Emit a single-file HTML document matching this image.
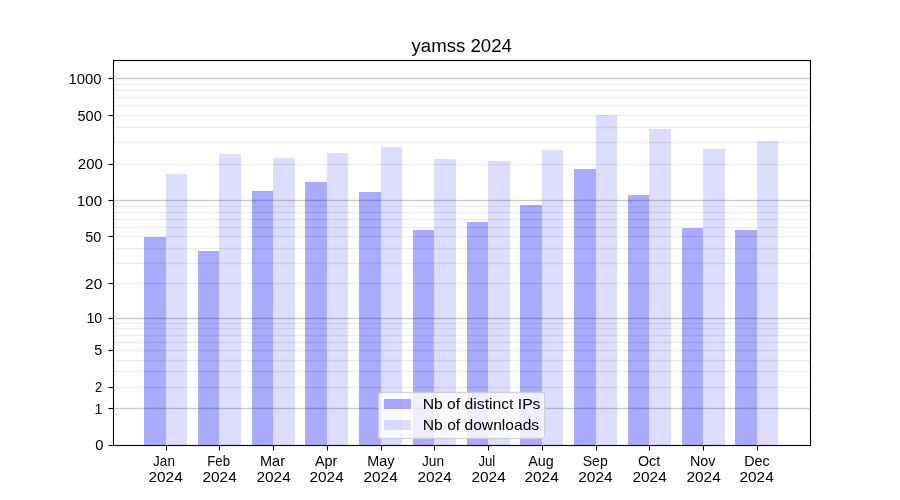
<!DOCTYPE html>
<html lang="en"><head><meta charset="utf-8"><title>yamss 2024</title>
<style>
html,body{margin:0;padding:0;background:#ffffff;}
body{width:900px;height:500px;overflow:hidden;font-family:"Liberation Sans",sans-serif;}
svg{display:block;position:absolute;left:0;top:0;will-change:transform;}
text{font-family:"Liberation Sans",sans-serif;fill:#000000;}
.t{font-size:14.5px;}
.title{font-size:18.25px;}
.bar1{fill:#aaaaff;}.bar2{fill:#ddddff;}
.gM{stroke:#000;stroke-opacity:0.2;stroke-width:1.389;}
.gm{stroke:#000;stroke-opacity:0.07;stroke-width:1.389;}
.tk{stroke:#000;stroke-width:1.111;}
</style></head><body>
<svg width="900" height="500" viewBox="0 0 900 500">
<rect x="0" y="0" width="900" height="500" fill="#ffffff"/>
<!-- bars: dark = Nb of distinct IPs, light = Nb of downloads -->
<g shape-rendering="crispEdges">
<rect class="bar1" x="144" y="237" width="22" height="208"/>
<rect class="bar2" x="166" y="174" width="21" height="271"/>
<rect class="bar1" x="198" y="251" width="21" height="194"/>
<rect class="bar2" x="219" y="154" width="22" height="291"/>
<rect class="bar1" x="252" y="191" width="21" height="254"/>
<rect class="bar2" x="273" y="158" width="22" height="287"/>
<rect class="bar1" x="305" y="182" width="22" height="263"/>
<rect class="bar2" x="327" y="153" width="21" height="292"/>
<rect class="bar1" x="359" y="192" width="22" height="253"/>
<rect class="bar2" x="381" y="147" width="21" height="298"/>
<rect class="bar1" x="413" y="230" width="21" height="215"/>
<rect class="bar2" x="434" y="159" width="22" height="286"/>
<rect class="bar1" x="467" y="222" width="21" height="223"/>
<rect class="bar2" x="488" y="161" width="22" height="284"/>
<rect class="bar1" x="520" y="205" width="22" height="240"/>
<rect class="bar2" x="542" y="150" width="21" height="295"/>
<rect class="bar1" x="574" y="169" width="22" height="276"/>
<rect class="bar2" x="596" y="115" width="21" height="330"/>
<rect class="bar1" x="628" y="195" width="21" height="250"/>
<rect class="bar2" x="649" y="129" width="22" height="316"/>
<rect class="bar1" x="682" y="228" width="21" height="217"/>
<rect class="bar2" x="703" y="149" width="22" height="296"/>
<rect class="bar1" x="735" y="230" width="22" height="215"/>
<rect class="bar2" x="757" y="141" width="21" height="304"/>
</g>
<!-- grid lines -->
<g>
<line class="gM" x1="113" x2="811" y1="78.5" y2="78.5"/>
<line class="gM" x1="113" x2="811" y1="200.5" y2="200.5"/>
<line class="gM" x1="113" x2="811" y1="318.5" y2="318.5"/>
<line class="gM" x1="113" x2="811" y1="408.5" y2="408.5"/>
<line class="gm" x1="113" x2="811" y1="84.5" y2="84.5"/>
<line class="gm" x1="113" x2="811" y1="90.5" y2="90.5"/>
<line class="gm" x1="113" x2="811" y1="97.5" y2="97.5"/>
<line class="gm" x1="113" x2="811" y1="105.5" y2="105.5"/>
<line class="gm" x1="113" x2="811" y1="115.5" y2="115.5"/>
<line class="gm" x1="113" x2="811" y1="127.5" y2="127.5"/>
<line class="gm" x1="113" x2="811" y1="142.5" y2="142.5"/>
<line class="gm" x1="113" x2="811" y1="164.5" y2="164.5"/>
<line class="gm" x1="113" x2="811" y1="206.5" y2="206.5"/>
<line class="gm" x1="113" x2="811" y1="212.5" y2="212.5"/>
<line class="gm" x1="113" x2="811" y1="219.5" y2="219.5"/>
<line class="gm" x1="113" x2="811" y1="227.5" y2="227.5"/>
<line class="gm" x1="113" x2="811" y1="236.5" y2="236.5"/>
<line class="gm" x1="113" x2="811" y1="248.5" y2="248.5"/>
<line class="gm" x1="113" x2="811" y1="263.5" y2="263.5"/>
<line class="gm" x1="113" x2="811" y1="283.5" y2="283.5"/>
<line class="gm" x1="113" x2="811" y1="323.5" y2="323.5"/>
<line class="gm" x1="113" x2="811" y1="328.5" y2="328.5"/>
<line class="gm" x1="113" x2="811" y1="335.5" y2="335.5"/>
<line class="gm" x1="113" x2="811" y1="342.5" y2="342.5"/>
<line class="gm" x1="113" x2="811" y1="350.5" y2="350.5"/>
<line class="gm" x1="113" x2="811" y1="360.5" y2="360.5"/>
<line class="gm" x1="113" x2="811" y1="371.5" y2="371.5"/>
<line class="gm" x1="113" x2="811" y1="387.5" y2="387.5"/>
</g>
<!-- ticks -->
<g>
<line class="tk" x1="108.5" x2="113.5" y1="78.5" y2="78.5"/>
<line class="tk" x1="108.5" x2="113.5" y1="115.5" y2="115.5"/>
<line class="tk" x1="108.5" x2="113.5" y1="164.5" y2="164.5"/>
<line class="tk" x1="108.5" x2="113.5" y1="200.5" y2="200.5"/>
<line class="tk" x1="108.5" x2="113.5" y1="236.5" y2="236.5"/>
<line class="tk" x1="108.5" x2="113.5" y1="283.5" y2="283.5"/>
<line class="tk" x1="108.5" x2="113.5" y1="318.5" y2="318.5"/>
<line class="tk" x1="108.5" x2="113.5" y1="350.5" y2="350.5"/>
<line class="tk" x1="108.5" x2="113.5" y1="387.5" y2="387.5"/>
<line class="tk" x1="108.5" x2="113.5" y1="408.5" y2="408.5"/>
<line class="tk" x1="108.5" x2="113.5" y1="445.5" y2="445.5"/>
<line class="tk" x1="166.5" x2="166.5" y1="445.5" y2="450.5"/>
<line class="tk" x1="219.5" x2="219.5" y1="445.5" y2="450.5"/>
<line class="tk" x1="273.5" x2="273.5" y1="445.5" y2="450.5"/>
<line class="tk" x1="327.5" x2="327.5" y1="445.5" y2="450.5"/>
<line class="tk" x1="381.5" x2="381.5" y1="445.5" y2="450.5"/>
<line class="tk" x1="434.5" x2="434.5" y1="445.5" y2="450.5"/>
<line class="tk" x1="488.5" x2="488.5" y1="445.5" y2="450.5"/>
<line class="tk" x1="542.5" x2="542.5" y1="445.5" y2="450.5"/>
<line class="tk" x1="596.5" x2="596.5" y1="445.5" y2="450.5"/>
<line class="tk" x1="649.5" x2="649.5" y1="445.5" y2="450.5"/>
<line class="tk" x1="703.5" x2="703.5" y1="445.5" y2="450.5"/>
<line class="tk" x1="757.5" x2="757.5" y1="445.5" y2="450.5"/>
</g>
<!-- axes frame -->
<rect x="113.5" y="60.5" width="697" height="385" fill="none" stroke="#000" stroke-width="1.111" stroke-linejoin="miter"/>
<!-- y tick labels -->
<g>
<text class="t" x="68.58" y="84.00" textLength="32.95" lengthAdjust="spacingAndGlyphs">1000</text>
<text class="t" x="77.50" y="121.00" textLength="24.31" lengthAdjust="spacingAndGlyphs">500</text>
<text class="t" x="77.80" y="169.00" textLength="25.03" lengthAdjust="spacingAndGlyphs">200</text>
<text class="t" x="76.88" y="206.00" textLength="25.17" lengthAdjust="spacingAndGlyphs">100</text>
<text class="t" x="85.25" y="242.00" textLength="16.02" lengthAdjust="spacingAndGlyphs">50</text>
<text class="t" x="85.05" y="289.00" textLength="17.25" lengthAdjust="spacingAndGlyphs">20</text>
<text class="t" x="86.38" y="323.00" textLength="15.87" lengthAdjust="spacingAndGlyphs">10</text>
<text class="t" x="94.30" y="355.00" textLength="8.00" lengthAdjust="spacingAndGlyphs">5</text>
<text class="t" x="95.05" y="392.00" textLength="7.20" lengthAdjust="spacingAndGlyphs">2</text>
<text class="t" x="94.58" y="414.00" textLength="7.94" lengthAdjust="spacingAndGlyphs">1</text>
<text class="t" x="95.30" y="450.00" textLength="8.25" lengthAdjust="spacingAndGlyphs">0</text>
</g>
<!-- x tick labels -->
<g>
<text class="t" x="153.10" y="466.00" textLength="21.82" lengthAdjust="spacingAndGlyphs">Jan</text>
<text class="t" x="148.50" y="482.00" textLength="34.25" lengthAdjust="spacingAndGlyphs">2024</text>
<text class="t" x="207.25" y="466.00" textLength="22.73" lengthAdjust="spacingAndGlyphs">Feb</text>
<text class="t" x="202.45" y="482.00" textLength="34.28" lengthAdjust="spacingAndGlyphs">2024</text>
<text class="t" x="260.00" y="466.00" textLength="24.97" lengthAdjust="spacingAndGlyphs">Mar</text>
<text class="t" x="256.45" y="482.00" textLength="34.28" lengthAdjust="spacingAndGlyphs">2024</text>
<text class="t" x="315.00" y="466.00" textLength="22.42" lengthAdjust="spacingAndGlyphs">Apr</text>
<text class="t" x="309.50" y="482.00" textLength="34.25" lengthAdjust="spacingAndGlyphs">2024</text>
<text class="t" x="367.25" y="466.00" textLength="27.25" lengthAdjust="spacingAndGlyphs">May</text>
<text class="t" x="363.50" y="482.00" textLength="34.25" lengthAdjust="spacingAndGlyphs">2024</text>
<text class="t" x="422.05" y="466.00" textLength="21.99" lengthAdjust="spacingAndGlyphs">Jun</text>
<text class="t" x="417.45" y="482.00" textLength="34.28" lengthAdjust="spacingAndGlyphs">2024</text>
<text class="t" x="478.40" y="466.00" textLength="16.79" lengthAdjust="spacingAndGlyphs">Jul</text>
<text class="t" x="471.45" y="482.00" textLength="34.28" lengthAdjust="spacingAndGlyphs">2024</text>
<text class="t" x="528.25" y="466.00" textLength="25.46" lengthAdjust="spacingAndGlyphs">Aug</text>
<text class="t" x="524.50" y="482.00" textLength="34.25" lengthAdjust="spacingAndGlyphs">2024</text>
<text class="t" x="582.75" y="466.00" textLength="25.00" lengthAdjust="spacingAndGlyphs">Sep</text>
<text class="t" x="578.25" y="482.00" textLength="34.50" lengthAdjust="spacingAndGlyphs">2024</text>
<text class="t" x="638.00" y="466.00" textLength="22.19" lengthAdjust="spacingAndGlyphs">Oct</text>
<text class="t" x="632.45" y="482.00" textLength="34.28" lengthAdjust="spacingAndGlyphs">2024</text>
<text class="t" x="690.00" y="466.00" textLength="25.48" lengthAdjust="spacingAndGlyphs">Nov</text>
<text class="t" x="686.45" y="482.00" textLength="34.28" lengthAdjust="spacingAndGlyphs">2024</text>
<text class="t" x="744.25" y="466.00" textLength="25.50" lengthAdjust="spacingAndGlyphs">Dec</text>
<text class="t" x="739.50" y="482.00" textLength="34.25" lengthAdjust="spacingAndGlyphs">2024</text>
</g>
<!-- title -->
<text class="title" x="411.55" y="52.00" textLength="100.30" lengthAdjust="spacingAndGlyphs">yamss 2024</text>
<!-- legend -->
<g>
<rect x="378.5" y="392.5" width="166" height="46" rx="2.78" ry="2.78" fill="#ffffff" fill-opacity="0.8" stroke="#cccccc" stroke-opacity="0.8" stroke-width="1.389"/>
<rect shape-rendering="crispEdges" x="384" y="399" width="27" height="10" fill="#0000ff" fill-opacity="0.3333"/>
<rect shape-rendering="crispEdges" x="384" y="420" width="27" height="10" fill="#0000ff" fill-opacity="0.133"/>
<text class="t" x="422.70" y="409.00" textLength="117.79" lengthAdjust="spacingAndGlyphs">Nb of distinct IPs</text>
<text class="t" x="422.85" y="430.00" textLength="116.29" lengthAdjust="spacingAndGlyphs">Nb of downloads</text>
</g>
</svg>
</body></html>
